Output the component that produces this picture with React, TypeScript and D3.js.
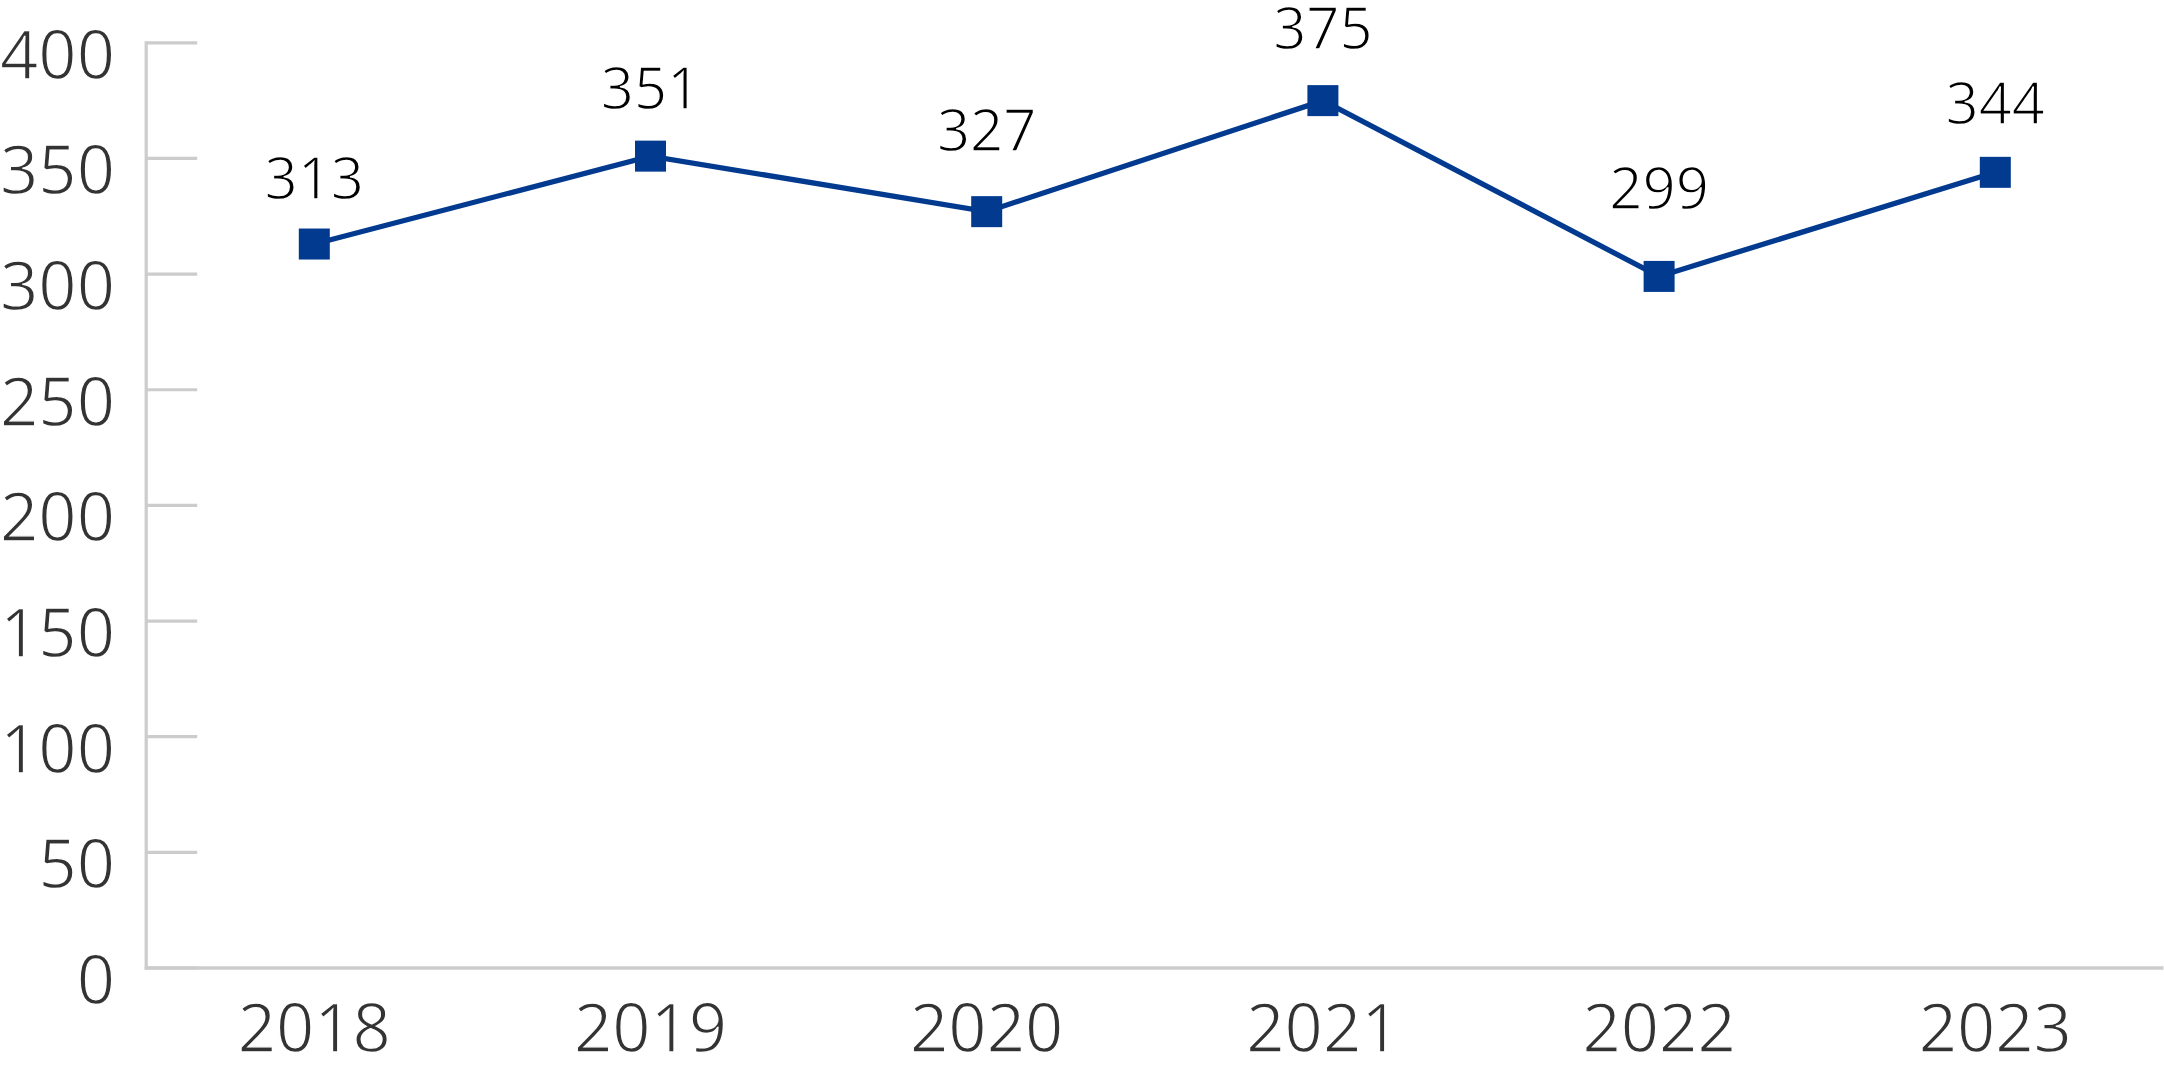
import React, { useEffect } from "react";
import * as d3 from "d3";

// ---- data ----
const years: string[] = ["2018", "2019", "2020", "2021", "2022", "2023"];
const values: number[] = [313, 351, 327, 375, 299, 344];
const yTicks: number[] = [0, 50, 100, 150, 200, 250, 300, 350, 400];

// ---- layout ----
const W = 2164;
const H = 1073;
const X0 = 146.2;
const X1 = 2163.4;
const Y0 = 968;
const YTOP = 42.8;
const labelLift: number[] = [45.5, 47, 60.5, 52, 67, 48];

const LINE_COLOR = "#023a8f";
const AXIS_COLOR = "#cccccc";
const TEXT_COLOR = "#333333";
const FONT = "'Open Sans', 'Noto Sans', sans-serif";

export default function App() {
  useEffect(() => {
    document.body.style.margin = "0";
  }, []);

  const x = d3.scaleBand<string>().domain(years).range([X0, X1]).padding(0);
  const y = d3.scaleLinear().domain([0, 400]).range([Y0, YTOP]);
  const cx = (d: string) => (x(d) as number) + x.bandwidth() / 2;

  const pts = years.map((yr, i) => ({ yr, v: values[i], lift: labelLift[i] }));
  const line = d3
    .line<{ yr: string; v: number }>()
    .x((d) => cx(d.yr))
    .y((d) => y(d.v));

  const m = 31;

  return (
    <svg
      width={W}
      height={H}
      style={{ position: "absolute", left: 0, top: 0, display: "block", background: "#fff" }}
    >
      {/* y ticks */}
      {yTicks.map((t) => (
        <g key={t}>
          <line x1={X0} x2={X0 + 51} y1={y(t)} y2={y(t)} stroke={AXIS_COLOR} strokeWidth={3.2} />
          <text
            x={115}
            y={y(t) + 36}
            textAnchor="end"
            fontFamily={FONT}
            fontSize={67}
            fill={TEXT_COLOR}
            stroke="#fff"
            strokeWidth={1.3}
          >
            {t}
          </text>
        </g>
      ))}
      {/* y axis line */}
      <line x1={X0} x2={X0} y1={YTOP - 1.5} y2={Y0 + 1.5} stroke={AXIS_COLOR} strokeWidth={3.2} />
      {/* x axis line */}
      <line x1={X0 - 1.5} x2={X1} y1={Y0} y2={Y0} stroke={AXIS_COLOR} strokeWidth={3.5} />
      {/* x labels */}
      {years.map((yr) => (
        <text
          key={yr}
          x={cx(yr)}
          y={Y0 + 84}
          textAnchor="middle"
          fontFamily={FONT}
          fontSize={67}
          fill={TEXT_COLOR}
          stroke="#fff"
          strokeWidth={1.3}
        >
          {yr}
        </text>
      ))}
      {/* line */}
      <path d={line(pts) || ""} fill="none" stroke={LINE_COLOR} strokeWidth={5.3} />
      {/* markers */}
      {pts.map((p) => (
        <rect
          key={p.yr}
          x={cx(p.yr) - m / 2}
          y={y(p.v) - m / 2}
          width={m}
          height={m}
          fill={LINE_COLOR}
        />
      ))}
      {/* data labels */}
      {pts.map((p) => (
        <text
          key={"l" + p.yr}
          x={cx(p.yr)}
          y={y(p.v) - p.lift}
          textAnchor="middle"
          fontFamily={FONT}
          fontSize={58}
          fill="#000"
          stroke="#fff"
          strokeWidth={1.4}
        >
          {p.v}
        </text>
      ))}
    </svg>
  );
}
